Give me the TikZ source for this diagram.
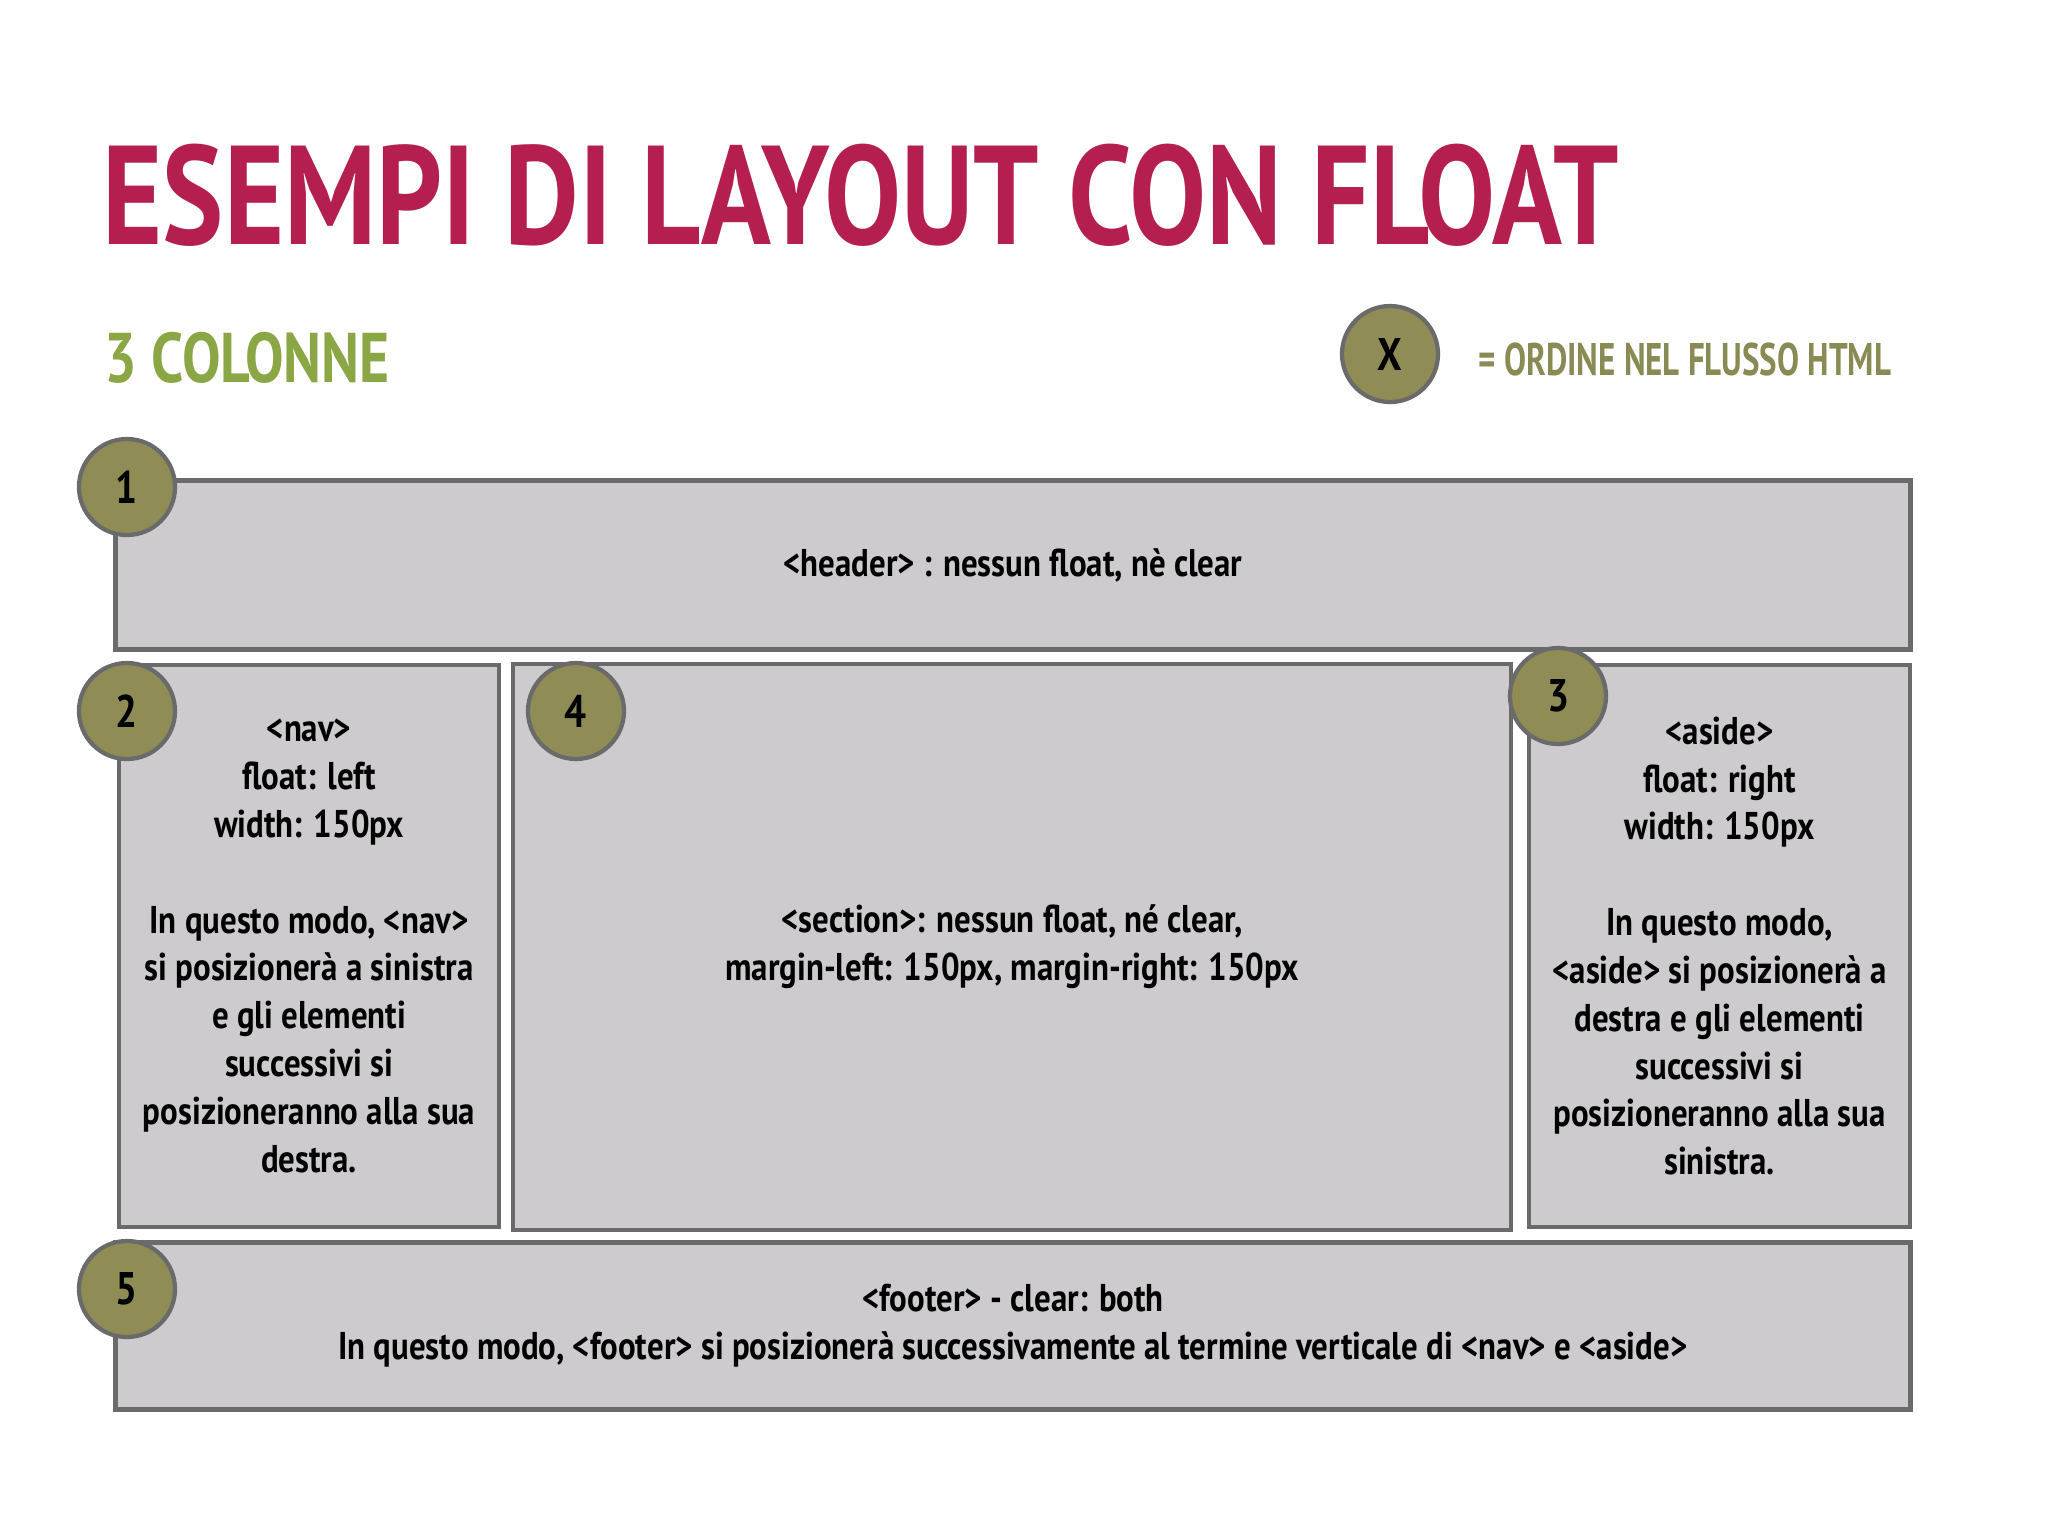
\documentclass[tikz,border=0pt]{standalone}
\usepackage{fontspec}
\setmainfont{PT Sans}
\newfontfamily\titlefont[FakeStretch=0.82]{PT Sans}
\newfontfamily\bodyfont[FakeStretch=0.85]{PT Sans}
\newfontfamily\legendfont[FakeStretch=0.72]{PT Sans}
\usetikzlibrary{positioning}
\definecolor{titlered}{HTML}{B41F50}
\definecolor{subgreen}{HTML}{8BA644}
\definecolor{legendolive}{HTML}{8A8A55}
\definecolor{badgefill}{HTML}{8F8D55}
\definecolor{linegray}{HTML}{6A6A6A}
\definecolor{boxfill}{HTML}{CDCBCE}

\begin{document}
\begin{tikzpicture}[x=0.01cm, y=-0.01cm]
	\tikzset{
		block/.style={draw=linegray, line width=1.2pt, fill=boxfill, align=center, inner sep=0pt,
			font=\bodyfont\bfseries\fontsize{11}{13.6}\selectfont},
		badge/.style={circle, draw=linegray, line width=1.2pt, fill=badgefill, minimum size=0.96cm, inner sep=0pt,
			font=\bodyfont\bfseries\fontsize{13}{15}\selectfont}
	}
	\useasboundingbox (0,0) rectangle (2048,1536);
	
	% Titles
	\node[anchor=base west, inner sep=0pt, text=titlered, font=\titlefont\bfseries\fontsize{40}{44}\selectfont] (title) at (102,244) {ESEMPI DI LAYOUT CON FLOAT};
	\node[anchor=base west, inner sep=0pt, text=subgreen, font=\titlefont\bfseries\fontsize{20}{24}\selectfont] (subtitle) at (104,382) {3 COLONNE};
	\node[badge] (bx) at (1390,354) {X};
	\node[anchor=base west, inner sep=0pt, text=legendolive, font=\legendfont\bfseries\fontsize{13}{16}\selectfont] (legend) at (1478,375) {= ORDINE NEL FLUSSO HTML};
	
	% Boxes
	\node[block, minimum width=17.94cm, minimum height=1.69cm] (header) at (1013,565) {<header> : nessun float, nè clear};
	\node[block, minimum width=3.80cm, minimum height=5.61cm] (nav) at (309,946) {<nav>\\float: left\\width: 150px\\[13.6pt]In questo modo, <nav>\\si posizionerà a sinistra\\e gli elementi\\successivi si\\posizioneranno alla sua\\destra.};
	\node[block, minimum width=9.98cm, minimum height=5.66cm] (section) at (1012,947) {<section>: nessun float, né clear,\\margin-left: 150px, margin-right: 150px};
	\node[block, minimum width=3.81cm, minimum height=5.61cm] (aside) at (1719.5,946) {<aside>\\float: right\\width: 150px\\[13.6pt]In questo modo,\\<aside> si posizionerà a\\destra e gli elementi\\successivi si\\posizioneranno alla sua\\sinistra.};
	\node[block, minimum width=17.94cm, minimum height=1.67cm] (footer) at (1013,1326) {<footer> - clear: both\\In questo modo, <footer> si posizionerà successivamente al termine verticale di <nav> e <aside>};
	
	% Order badges
	\node[badge] (b1) at (127,487) {1};
	\node[badge] (b2) at (127,711) {2};
	\node[badge] (b3) at (1558,696) {3};
	\node[badge] (b4) at (576,711) {4};
	\node[badge] (b5) at (127,1289) {5};
\end{tikzpicture}
\end{document}
